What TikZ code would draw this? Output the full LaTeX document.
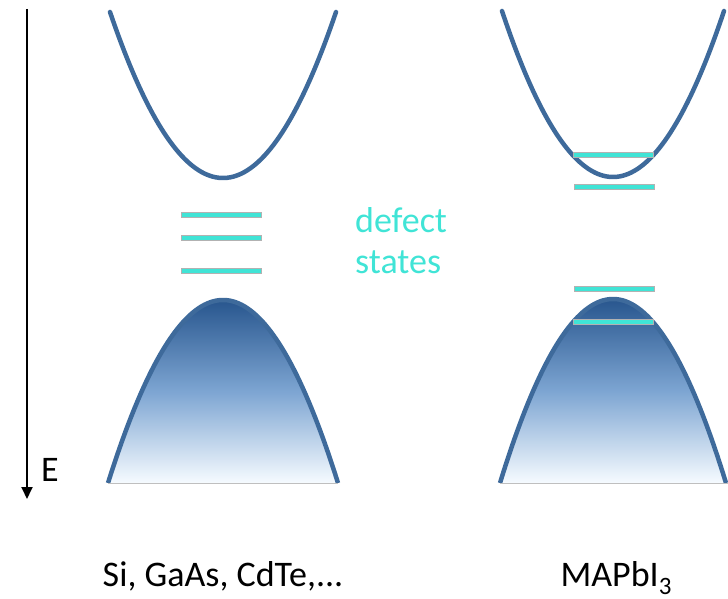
\documentclass[tikz,border=0pt]{standalone}
\usepackage{fontspec}
\setmainfont{Carlito}
\usetikzlibrary{arrows.meta}
\definecolor{bandline}{RGB}{62,106,155}
\definecolor{vbtop}{RGB}{40,86,142}
\definecolor{vbmid}{RGB}{125,165,210}
\definecolor{vbbot}{RGB}{246,251,255}
\definecolor{defcol}{RGB}{64,228,214}
\tikzset{
  band/.style={draw=bandline, line width=4.5pt, line cap=round},
  vbfill/.style={top color=vbtop, bottom color=vbbot, middle color=vbmid},
  deflevel/.style={fill=defcol, draw=black!30, line width=0.5pt},
  lbl/.style={inner sep=0pt, font=\fontsize{36}{41}\selectfont},
  deftext/.style={lbl, text=defcol, anchor=base west},
}
\begin{document}
\begin{tikzpicture}[x=1pt, y=-1pt]
\useasboundingbox (0,0) rectangle (728,599);
\begin{scope}
\clip (0,0) rectangle (728,599);
% conduction bands
\draw[band] plot[domain=-113:113, samples=80] ({223+\x}, {178-166*(\x/113)^2});
\draw[band] plot[domain=-111:111, samples=80] ({613+\x}, {177-166*(\x/111)^2});
% valence bands
\shade[vbfill] plot[domain=-115:115, samples=80] ({223+\x}, {300+183*(\x/115)^2}) -- cycle;
\draw[band, line cap=butt] plot[domain=-115:115, samples=80] ({223+\x}, {300+183*(\x/115)^2});
\draw[black!25, line width=0.8pt] (108,483) -- (338,483);
\shade[vbfill] plot[domain=-113:113, samples=80] ({613+\x}, {299+184*(\x/113)^2}) -- cycle;
\draw[band, line cap=butt] plot[domain=-113:113, samples=80] ({613+\x}, {299+184*(\x/113)^2});
\draw[black!25, line width=0.8pt] (500,483) -- (728,483);
\end{scope}
% defect levels left
\draw[deflevel] (181,212.5) rectangle (261,217.5);
\draw[deflevel] (181,235.5) rectangle (261,240.5);
\draw[deflevel] (181,268.5) rectangle (261,273.5);
% defect levels right
\draw[deflevel] (573,152.5) rectangle (653,157.5);
\draw[deflevel] (574,184.5) rectangle (654,189.5);
\draw[deflevel] (574,286.5) rectangle (654,291.5);
\draw[deflevel] (573,319.5) rectangle (653,324.5);
% energy axis
\coordinate (etop) at (27,9);
\coordinate (ebot) at (27,499);
\draw[line width=1.8pt, -{Triangle[length=12pt,width=11pt]}] (etop) -- (ebot);
\node[lbl, anchor=base west] (elbl) at (41,481) {E};
% texts
\node[deftext] (def1) at (355,232) {defect};
\node[deftext] (def2) at (355,273) {states};
\node[lbl, anchor=base] (mat1) at (223,586) {Si, GaAs, CdTe,...};
\node[lbl, anchor=base] (mat2) at (616,586) {MAPbI\raisebox{-8pt}{\fontsize{25}{25}\selectfont 3}};
\end{tikzpicture}
\end{document}
